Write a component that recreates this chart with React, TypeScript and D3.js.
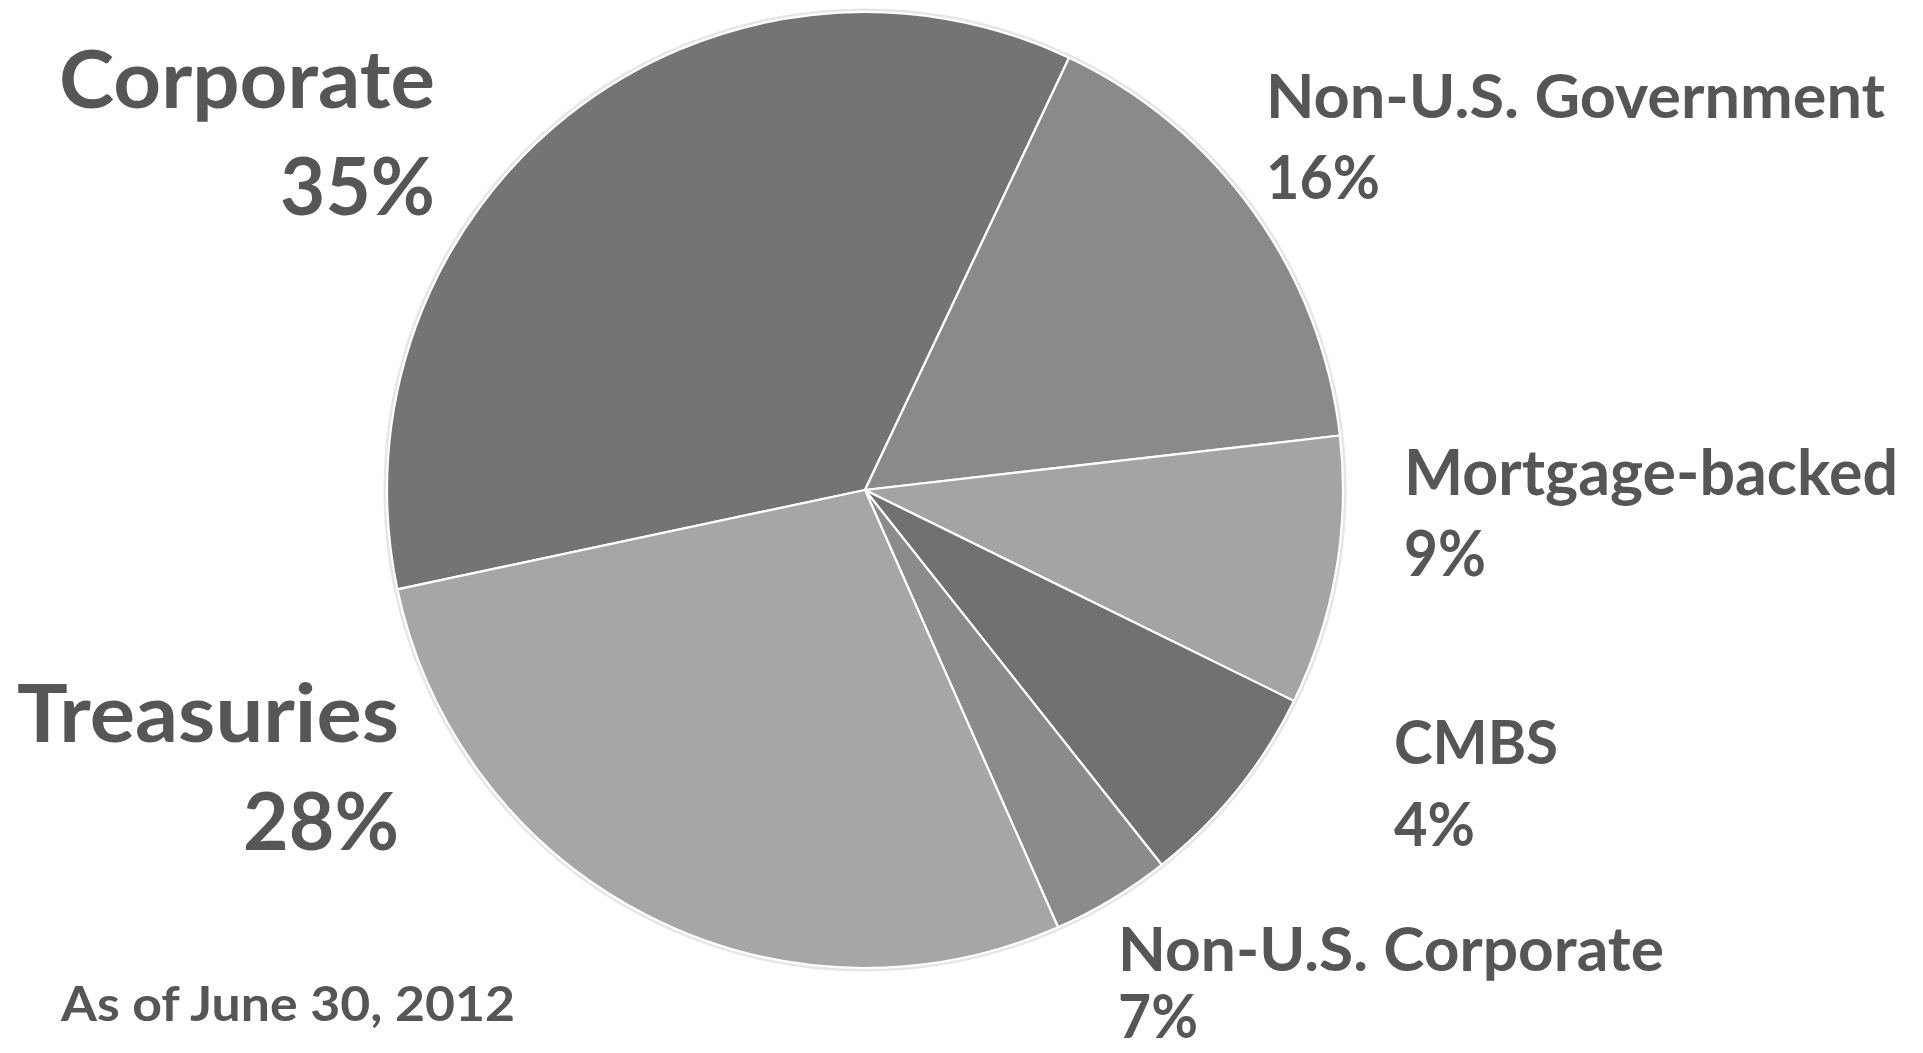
import React, { useEffect, useRef } from "react";
import * as d3 from "d3";

// ---- data ----
const categories = ["Corporate", "Non-U.S. Government", "Mortgage-backed", "Non-U.S. Corporate", "CMBS", "Treasuries"];
const shares = [35, 16, 9, 7, 4, 28];
const sliceColors = ["#747474", "#8a8a8a", "#a4a4a4", "#717171", "#8b8b8b", "#a6a6a6"];
const footnote = "As of June 30, 2012";

// ---- label layout ----
type LabelLayout = { cat: string; x: number; anchor: string; y1: number; y2: number; size: number; w1: number; w2: number };
const labelLayout: LabelLayout[] = [
  { cat: "Corporate", x: 435, anchor: "end", y1: 108, y2: 215, size: 80, w1: 376, w2: 155 },
  { cat: "Non-U.S. Government", x: 1266, anchor: "start", y1: 118, y2: 199, size: 62, w1: 619, w2: 114 },
  { cat: "Mortgage-backed", x: 1404, anchor: "start", y1: 495, y2: 576, size: 64, w1: 494, w2: 82 },
  { cat: "CMBS", x: 1394, anchor: "start", y1: 764, y2: 846, size: 62, w1: 164, w2: 81 },
  { cat: "Non-U.S. Corporate", x: 1118, anchor: "start", y1: 971, y2: 1038, size: 62, w1: 546, w2: 80 },
  { cat: "Treasuries", x: 399, anchor: "end", y1: 742, y2: 850, size: 81, w1: 382, w2: 156 },
];

const W = 1923;
const H = 1053;
const CX = 865;
const CY = 490;
const R = 478;
const START_DEG = -102;

export default function App() {
  const ref = useRef<SVGSVGElement | null>(null);

  useEffect(() => {
    const svg = d3.select(ref.current);
    svg.selectAll("*").remove();

    const data = categories.map((c, i) => ({ cat: c, value: shares[i], color: sliceColors[i] }));
    const start = (START_DEG * Math.PI) / 180;
    const pie = d3
      .pie<any>()
      .sort(null)
      .value((d: any) => d.value)
      .startAngle(start)
      .endAngle(start + 2 * Math.PI);
    const arc = d3.arc<any>().innerRadius(0).outerRadius(R);

    const g = svg.append("g").attr("transform", `translate(${CX},${CY})`);
    g.append("circle").attr("r", R + 2).attr("fill", "none").attr("stroke", "#e6e6e6").attr("stroke-width", 3);
    g.selectAll("path.slice")
      .data(pie(data))
      .enter()
      .append("path")
      .attr("class", "slice")
      .attr("d", arc as any)
      .attr("fill", (d: any) => d.data.color)
      .attr("stroke", "#ffffff")
      .attr("stroke-width", 2.2)
      .attr("stroke-linejoin", "round");

    const font = "Lato, 'Open Sans', sans-serif";
    const color = "#565656";
    const lg = svg.append("g");
    labelLayout.forEach((l) => {
      const idx = categories.indexOf(l.cat);
      const pct = `${shares[idx]}%`;
      lg.append("text")
        .attr("x", l.anchor === "end" ? l.x - l.w1 : l.x)
        .attr("y", l.y1)
        .attr("font-family", font)
        .attr("font-weight", 700)
        .attr("font-size", l.size)
        .attr("fill", color)
        .attr("textLength", l.w1)
        .attr("lengthAdjust", "spacingAndGlyphs")
        .text(l.cat);
      lg.append("text")
        .attr("x", l.anchor === "end" ? l.x - l.w2 : l.x)
        .attr("y", l.y2)
        .attr("font-family", font)
        .attr("font-weight", 700)
        .attr("font-size", l.size)
        .attr("fill", color)
        .attr("textLength", l.w2)
        .attr("lengthAdjust", "spacingAndGlyphs")
        .text(pct);
    });

    lg.append("text")
      .attr("x", 61)
      .attr("y", 1021)
      .attr("font-family", font)
      .attr("font-weight", 700)
      .attr("font-size", 48)
      .attr("fill", color)
      .attr("textLength", 454)
      .attr("lengthAdjust", "spacingAndGlyphs")
      .text(footnote);
  }, []);

  return (
    <svg
      ref={ref}
      width={W}
      height={H}
      style={{ position: "absolute", left: 0, top: 0, background: "#ffffff", display: "block" }}
    />
  );
}
